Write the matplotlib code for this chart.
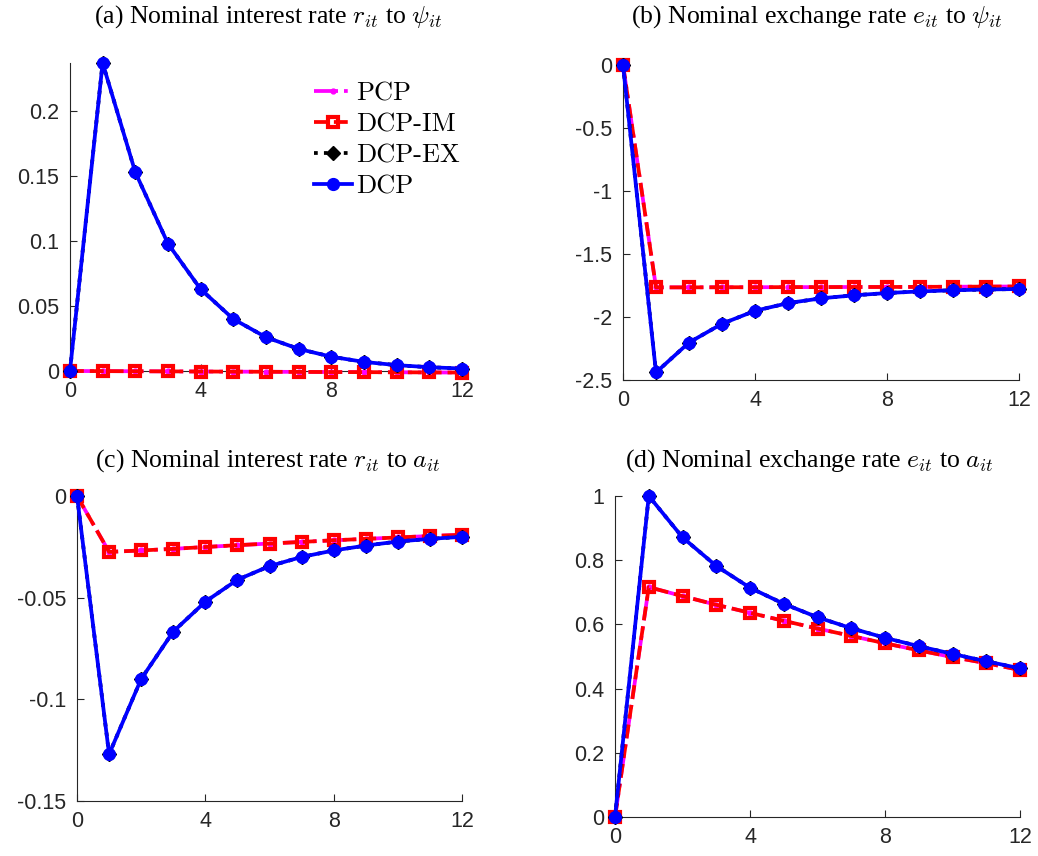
import matplotlib
matplotlib.use('Agg')
import matplotlib.pyplot as plt
import numpy as np
from matplotlib.font_manager import FontProperties

plt.rcParams['mathtext.fontset'] = 'cm'
plt.rcParams['axes.unicode_minus'] = False
plt.rcParams['font.family'] = ['Liberation Sans', 'DejaVu Sans']

# horizon
periods = np.arange(0, 13)

# (a) nominal interest rate to psi
r_psi_pcp = [0, -0.0001, -0.0002, -0.0003, -0.0004, -0.0005, -0.0006, -0.0007, -0.0008, -0.0009, -0.001, -0.0011, -0.0012]
r_psi_im = [0, -0.0001, -0.0002, -0.0003, -0.0004, -0.0005, -0.0006, -0.0007, -0.0008, -0.0009, -0.001, -0.0011, -0.0012]
r_psi_ex = [0, 0.237, 0.153, 0.098, 0.063, 0.040, 0.026, 0.017, 0.011, 0.007, 0.0045, 0.0029, 0.0019]
r_psi_dcp = [0, 0.237, 0.153, 0.098, 0.063, 0.040, 0.026, 0.017, 0.011, 0.007, 0.0045, 0.0029, 0.0019]

# (b) nominal exchange rate to psi
e_psi_pcp = [0, -1.765, -1.765, -1.764, -1.764, -1.763, -1.763, -1.762, -1.762, -1.761, -1.760, -1.759, -1.758]
e_psi_im = [0, -1.765, -1.765, -1.764, -1.764, -1.763, -1.763, -1.762, -1.762, -1.761, -1.760, -1.759, -1.758]
e_psi_ex = [0, -2.44, -2.203, -2.054, -1.951, -1.89, -1.852, -1.828, -1.81, -1.797, -1.788, -1.782, -1.778]
e_psi_dcp = [0, -2.44, -2.203, -2.054, -1.951, -1.89, -1.852, -1.828, -1.81, -1.797, -1.788, -1.782, -1.778]

# (c) nominal interest rate to a
r_a_pcp = [0, -0.0275, -0.0268, -0.026, -0.0251, -0.0242, -0.0234, -0.0226, -0.0218, -0.0211, -0.0204, -0.0197, -0.0191]
r_a_im = [0, -0.0275, -0.0268, -0.026, -0.0251, -0.0242, -0.0234, -0.0226, -0.0218, -0.0211, -0.0204, -0.0197, -0.0191]
r_a_ex = [0, -0.127, -0.090, -0.0667, -0.052, -0.0412, -0.0345, -0.030, -0.0268, -0.0244, -0.0224, -0.0211, -0.0201]
r_a_dcp = [0, -0.127, -0.090, -0.0667, -0.052, -0.0412, -0.0345, -0.030, -0.0268, -0.0244, -0.0224, -0.0211, -0.0201]

# (d) nominal exchange rate to a
e_a_pcp = [0, 0.716, 0.688, 0.661, 0.636, 0.611, 0.587, 0.564, 0.541, 0.519, 0.498, 0.479, 0.458]
e_a_im = [0, 0.716, 0.688, 0.661, 0.636, 0.611, 0.587, 0.564, 0.541, 0.519, 0.498, 0.479, 0.458]
e_a_ex = [0, 1.0, 0.871, 0.782, 0.714, 0.664, 0.622, 0.588, 0.558, 0.532, 0.508, 0.485, 0.463]
e_a_dcp = [0, 1.0, 0.871, 0.782, 0.714, 0.664, 0.622, 0.588, 0.558, 0.532, 0.508, 0.485, 0.463]

labels = ['PCP', 'DCP-IM', 'DCP-EX', 'DCP']

panels = [
    dict(pos=[0.0674, 0.5666, 0.3776, 0.3598], ylim=(0, 0.237),
         yticks=[0, 0.05, 0.1, 0.15, 0.2], yticklabels=['0', '0.05', '0.1', '0.15', '0.2'],
         title=r'(a) Nominal interest rate $r_{it}$ to $\psi_{it}$', tx=0.258, ty=0.974,
         data=[r_psi_pcp, r_psi_im, r_psi_ex, r_psi_dcp]),
    dict(pos=[0.6002, 0.5561, 0.3815, 0.368], ylim=(-2.5, 0),
         yticks=[-2.5, -2, -1.5, -1, -0.5, 0], yticklabels=['-2.5', '-2', '-1.5', '-1', '-0.5', '0'],
         title=r'(b) Nominal exchange rate $e_{it}$ to $\psi_{it}$', tx=0.787, ty=0.974,
         data=[e_psi_pcp, e_psi_im, e_psi_ex, e_psi_dcp]),
    dict(pos=[0.0742, 0.0643, 0.3709, 0.3563], ylim=(-0.15, 0),
         yticks=[-0.15, -0.1, -0.05, 0], yticklabels=['-0.15', '-0.1', '-0.05', '0'],
         title=r'(c) Nominal interest rate $r_{it}$ to $a_{it}$', tx=0.258, ty=0.455,
         data=[r_a_pcp, r_a_im, r_a_ex, r_a_dcp]),
    dict(pos=[0.5925, 0.0456, 0.3902, 0.375], ylim=(0, 1),
         yticks=[0, 0.2, 0.4, 0.6, 0.8, 1], yticklabels=['0', '0.2', '0.4', '0.6', '0.8', '1'],
         title=r'(d) Nominal exchange rate $e_{it}$ to $a_{it}$', tx=0.780, ty=0.455,
         data=[e_a_pcp, e_a_im, e_a_ex, e_a_dcp]),
]

fig = plt.figure(figsize=(10.38, 8.56), dpi=100)
axcol = '#262626'

for i, p in enumerate(panels):
    ax = fig.add_axes(p['pos'])
    pcp, im, ex, dcp = p['data']
    ax.plot(periods, pcp, '-.', color='magenta', lw=2.7, marker='o', ms=3.5,
            clip_on=False, label=labels[0], zorder=3)
    ax.plot(periods, im, '--', color='red', lw=2.7, marker='s', ms=7, mfc='none',
            mew=3, clip_on=False, label=labels[1], zorder=4)
    ax.plot(periods, ex, ':', color='black', lw=2.7, marker='D', ms=7.5, mfc='black',
            clip_on=False, label=labels[2], zorder=5)
    ax.plot(periods, dcp, '-', color='blue', lw=2.7, marker='o', ms=8.5,
            clip_on=False, label=labels[3], zorder=6)
    ax.set_xlim(0, 12)
    ax.set_ylim(*p['ylim'])
    ax.set_xticks([0, 4, 8, 12])
    ax.set_yticks(p['yticks'])
    ax.set_yticklabels(p['yticklabels'])
    ax.tick_params(direction='in', length=5, width=0.8, labelsize=15.5,
                   colors=axcol)
    ax.tick_params(axis='x', pad=7)
    ax.tick_params(axis='y', pad=8)
    ax.spines['top'].set_visible(False)
    ax.spines['right'].set_visible(False)
    for s in ['left', 'bottom']:
        ax.spines[s].set_color(axcol)
        ax.spines[s].set_linewidth(0.8)
    fig.text(p['tx'], p['ty'], p['title'], ha='center', va='baseline',
             fontsize=18.5, family='Liberation Serif')
    if i == 0:
        ax.legend(loc='upper left', bbox_to_anchor=(0.292, 0.917),
                  bbox_transform=fig.transFigure, frameon=False,
                  prop=FontProperties(family='cmr10', size=19),
                  handlelength=1.45, handletextpad=0.15, labelspacing=0.28,
                  borderaxespad=0)

fig.savefig('out.png', dpi=100)
